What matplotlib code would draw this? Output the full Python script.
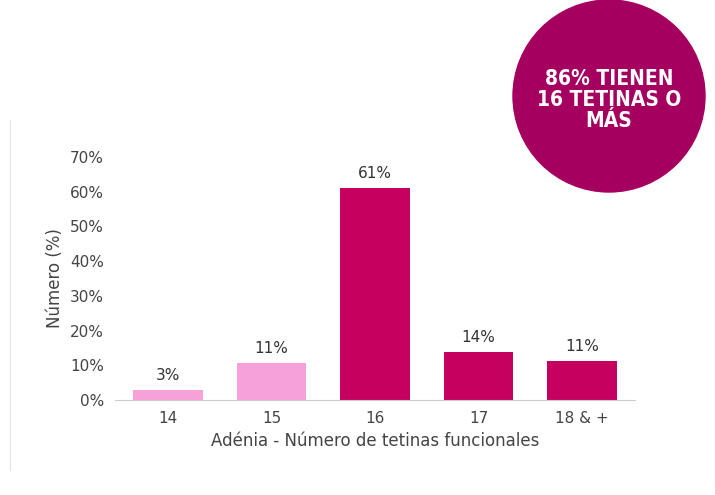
import matplotlib
matplotlib.use("Agg")
import matplotlib.pyplot as plt
from matplotlib.patches import Circle

categories = ["14", "15", "16", "17", "18 & +"]
values = [2.9, 10.7, 61.0, 13.8, 11.2]
labels = ["3%", "11%", "61%", "14%", "11%"]
light, dark = "#F7A1DA", "#C5005F"
colors = [light, light, dark, dark, dark]

fig = plt.figure(figsize=(7.15, 4.95), dpi=100)
ax = fig.add_axes([0.161, 0.192, 0.727, 0.491])
x = range(len(categories))
b = ax.bar(x, values, 0.67, color=colors)
ax.bar_label(b, labels=labels, padding=5, fontsize=11, color="#333333")
ax.set_xlim(-0.51, 4.51); ax.set_ylim(0, 70)
ax.set_yticks(range(0, 71, 10))
ax.set_yticklabels([f"{v}%" for v in range(0, 71, 10)])
ax.set_xticks(list(x)); ax.set_xticklabels(categories)
ax.tick_params(length=0, labelsize=11, colors="#444444", pad=8)
for s in ["top", "right", "left"]:
    ax.spines[s].set_visible(False)
ax.spines["bottom"].set_color("#cccccc")
ax.set_ylabel("Número (%)", fontsize=12, color="#444444")
ax.set_xlabel("Adénia - Número de tetinas funcionales", fontsize=12, color="#444444", labelpad=4)

# badge
ov = fig.add_axes([0, 0, 1, 1], facecolor="none")
ov.set_xlim(0, 715); ov.set_ylim(495, 0); ov.axis("off")
ov.add_patch(Circle((609, 96), 96, color="#A5005F"))
ov.plot([10, 10], [120, 470], color="#e6e6e6", lw=1)
ov.text(609, 100, "86% TIENEN\n16 TETINAS O\nMÁS", ha="center", va="center", color="white",
        fontsize=15, fontweight="bold", fontstretch="condensed",
        family=["Liberation Sans Narrow", "DejaVu Sans"], linespacing=1.05)

fig.savefig("out.png", dpi=100)
